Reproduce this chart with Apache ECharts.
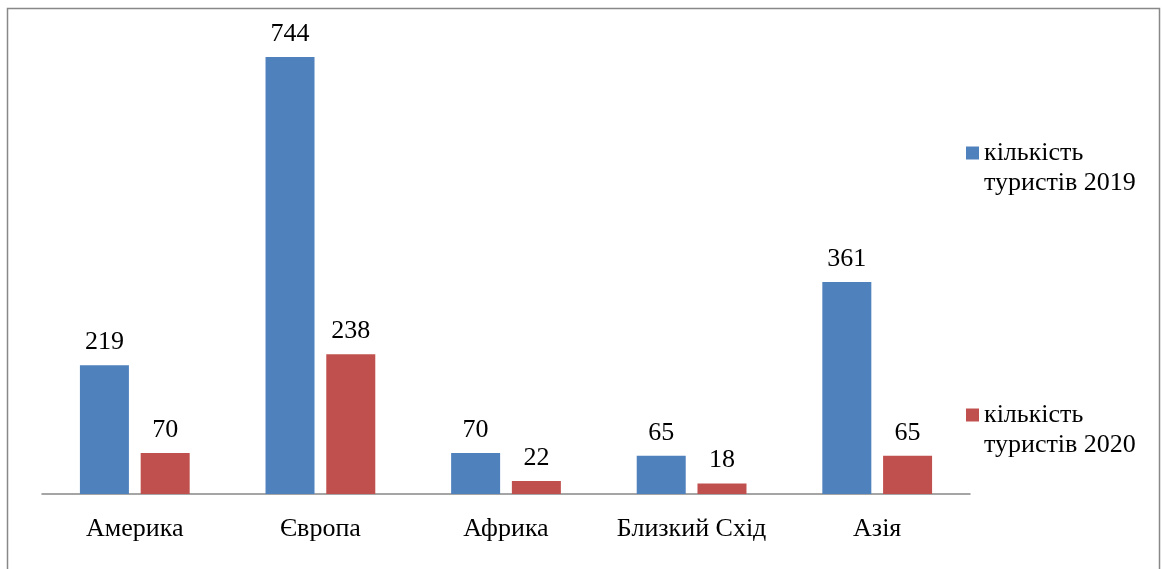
<!DOCTYPE html>
<html><head><meta charset="utf-8">
<script src="https://cdn.jsdelivr.net/npm/echarts@6/dist/echarts.min.js"></script>
<style>html,body{margin:0;padding:0;background:#fff}#c{width:1163px;height:569px}</style>
</head><body><div id="c"></div>
<script>
const categories = ['Америка', 'Європа', 'Африка', 'Близкий Схід', 'Азія'];
const series2019 = [219, 744, 70, 65, 361];
const series2020 = [70, 238, 22, 18, 65];
const seriesNames = ['кількість\nтуристів 2019', 'кількість\nтуристів 2020'];

const font = '"Liberation Serif", "Times New Roman", serif';
const chart = echarts.init(document.getElementById('c'), null, {renderer: 'canvas'});
const legendText = {
  fontFamily: font, fontSize: 26, color: '#000',
  rich: {
    a: {fontFamily: font, fontSize: 26, color: '#000', lineHeight: 60, height: 30, verticalAlign: 'bottom'},
    b: {fontFamily: font, fontSize: 26, color: '#000', lineHeight: 30, height: 30, verticalAlign: 'top'}
  }
};
const legendFormatter = function (name) {
  const parts = name.split('\n');
  return '{a|' + parts[0] + '}\n{b|' + parts[1] + '}';
};
chart.setOption({
  animation: false,
  graphic: [{type: 'rect', shape: {x: 7.5, y: 8.5, width: 1152, height: 600}, style: {fill: 'none', stroke: '#888', lineWidth: 1.5}, z: 100}],
  grid: {left: 42, right: 193, top: 24, bottom: 75},
  legend: [
    {data: [seriesNames[0]], left: 961, top: 133, orient: 'vertical', itemWidth: 13, itemHeight: 13, itemGap: 6, icon: 'rect', formatter: legendFormatter, textStyle: legendText},
    {data: [seriesNames[1]], left: 961, top: 395, orient: 'vertical', itemWidth: 13, itemHeight: 13, itemGap: 6, icon: 'rect', formatter: legendFormatter, textStyle: legendText}
  ],
  xAxis: {
    type: 'category', data: categories,
    axisLine: {lineStyle: {color: '#888', width: 1.5}},
    axisTick: {show: false},
    axisLabel: {interval: 0, fontFamily: font, fontSize: 26, color: '#000', margin: 22}
  },
  yAxis: {type: 'value', min: 0, max: 800, show: false, splitLine: {show: false}},
  series: [
    {name: seriesNames[0], type: 'bar', data: series2019, barWidth: '26.4%', barGap: '24%',
     itemStyle: {color: '#4F81BD'},
     label: {show: true, position: 'top', distance: 10, fontFamily: font, fontSize: 26, color: '#000'}},
    {name: seriesNames[1], type: 'bar', data: series2020, barWidth: '26.4%',
     itemStyle: {color: '#C0504D'},
     label: {show: true, position: 'top', distance: 10, fontFamily: font, fontSize: 26, color: '#000'}}
  ]
});
</script></body></html>
